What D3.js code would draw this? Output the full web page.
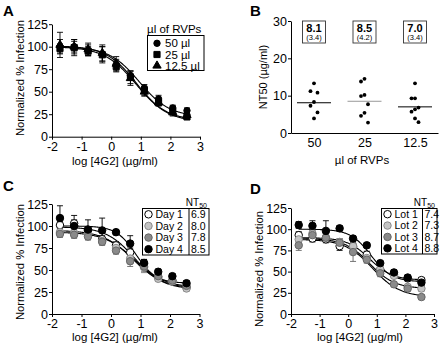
<!DOCTYPE html>
<html>
<head>
<meta charset="utf-8">
<script src="https://cdn.jsdelivr.net/npm/d3@7"></script>
<style>
  body { margin: 0; background: #fff; }
  text { font-family: "Liberation Sans", Arial, sans-serif; fill: #000; }
</style>
</head>
<body>
<svg id="fig" width="447" height="347"></svg>
<script>
// dose points (log [4G2] µg/ml), shared by A, C, D
const logDose = [-1.73, -1.25, -0.78, -0.3, 0.17, 0.65, 1.12, 1.6, 2.08, 2.56]
const xTicks = [-2, -1, 0, 1, 2, 3]
const yTicks = [0, 25, 50, 75, 100, 125]

// panel A : volume of RVPs
const rvpNames = ["50 µl", "25 µl", "12.5 µl"]
const rvp50 = [100, 100, 96, 92, 80, 68, 54, 42, 32, 29]
const rvp25 = [98, 99, 95, 91, 78, 66, 51, 38, 28, 22]
const rvp12 = [102, 100, 97, 93, 81, 65, 50, 38, 27, 24]
const rvp50Err = [8, 6, 6, 8, 6, 5, 4, 4, 3, 3]
const rvp25Err = [5, 9, 5, 9, 6, 7, 5, 4, 5, 3]
const rvp12Err = [14, 8, 7, 9, 8, 8, 5, 3, 3, 3]
// fitted curves: top, bottom, logEC50, hill
const rvpFits = [[100, 22, 0.95, 0.85], [100, 16, 0.85, 0.8], [101, 18, 0.85, 0.85]]

// panel B : NT50 per RVP volume
const groups = ["50", "25", "12.5"]
const nt50_50 = [13.3, 11.2, 10.8, 8.3, 7.3, 5.5, 3.9]
const nt50_25 = [14.5, 13.8, 10.2, 9.9, 7.7, 5.4, 4.6, 2.8]
const nt50_12 = [13.3, 9.3, 9.3, 6.8, 6.35, 5.7, 3.9, 2.9]
const groupMeans = [8.1, 8.5, 7.0]
const groupMeanLabels = ["8.1", "8.5", "7.0"]
const groupSdLabels = ["(3.4)", "(4.2)", "(3.4)"]

// panel C : day of production
const dayNames = ["Day 1", "Day 2", "Day 3", "Day 4"]
const dayNT50 = ["6.9", "8.0", "7.8", "8.5"]
const day1 = [101, 103, 95, 85, 78, 70, 57, 42, 38, 30]
const day2 = [93, 92, 90, 83, 75, 63, 53, 40, 37, 29]
const day3 = [91, 90, 88, 82, 72, 60, 54, 43, 38, 32]
const day4 = [109, 100, 96, 95, 93, 80, 58, 48, 43, 35]
const day1Err = [4, 4, 4, 4, 4, 5, 5, 3, 3, 3]
const day2Err = [4, 4, 4, 4, 4, 6, 6, 3, 3, 3]
const day3Err = [4, 4, 4, 4, 4, 6, 6, 3, 3, 3]
const day4Err = [14, 12, 11, 14, 3, 9, 4, 3, 3, 3]
const dayFits = [[99, 28, 0.8, 0.9], [95, 29, 0.75, 0.85], [93, 30, 0.8, 0.85], [100, 35, 0.85, 1.3]]

// panel D : lot
const lotNames = ["Lot 1", "Lot 2", "Lot 3", "Lot 4"]
const lotNT50 = ["7.4", "7.3", "8.7", "8.8"]
const lot1 = [93, 89, 88, 80, 80, 70, 52, 47, 42, 40]
const lot2 = [88, 95, 90, 85, 80, 66, 53, 45, 32, 30]
const lot3 = [81, 93, 90, 84, 73, 64, 48, 35, 30, 20]
const lot4 = [105, 104, 98, 101, 89, 81, 60, 49, 43, 37]
const lot1Err = [4, 4, 4, 5, 4, 4, 3, 3, 3, 3]
const lot2Err = [4, 4, 4, 4, 4, 4, 3, 3, 3, 3]
const lot3Err = [6, 4, 4, 5, 11, 4, 4, 3, 3, 3]
const lot4Err = [4, 6, 12, 3, 3, 3, 3, 3, 3, 3]
const lotFits = [[90, 40, 0.75, 1.1], [89, 30, 0.75, 1.0], [88, 20, 0.85, 0.9], [100, 38, 0.8, 1.2]]

const svg = d3.select("#fig")

// marker styles
const styles = {
  open: { fill: "#fff", stroke: "#000" },
  light: { fill: "#c4c4c4", stroke: "#8a8a8a" },
  mid: { fill: "#8a8a8a", stroke: "#666" },
  black: { fill: "#000", stroke: "#000" }
}

function logistic(p, x) {
  return p[1] + (p[0] - p[1]) / (1 + Math.pow(10, (x - p[2]) * p[3]))
}

function panelLetter(txt, x, y) {
  svg.append("text").attr("x", x).attr("y", y)
    .style("font-size", "15px").style("font-weight", "bold").text(txt)
}

function styleAxis(g) {
  g.selectAll("path,line").attr("stroke", "#000").attr("stroke-width", 1)
  g.selectAll("text").style("font-size", "12.5px").attr("fill", "#000")
}

function curvePanel(o) {
  const x = d3.scaleLinear().domain([-2, 3]).range(o.xr)
  const y = d3.scaleLinear().domain([0, 125]).range(o.yr)
  const g = svg.append("g")

  g.append("g").attr("transform", `translate(0,${o.yr[0]})`)
    .call(d3.axisBottom(x).tickValues(xTicks).tickFormat(d => String(d)).tickSize(3).tickSizeOuter(0).tickPadding(2))
    .call(styleAxis)
  g.append("g").attr("transform", `translate(${o.xr[0]},0)`)
    .call(d3.axisLeft(y).tickValues(yTicks).tickSize(3).tickSizeOuter(0).tickPadding(1))
    .call(styleAxis)

  g.append("text").attr("x", o.xLabel[0]).attr("y", o.xLabel[1]).attr("text-anchor", "middle")
    .style("font-size", "11.5px").text("log [4G2] (µg/ml)")
  g.append("text").attr("transform", `translate(${o.yLabel[0]},${o.yLabel[1]}) rotate(-90)`)
    .attr("text-anchor", "middle").style("font-size", "11.3px").text("Normalized % Infection")

  // fitted curve sampled across the dose range
  const xs = d3.range(-1.73, 2.561, 0.02)
  o.series.forEach(s => {
    g.append("path")
      .attr("d", d3.line().x(d => x(d)).y(d => y(logistic(s.fit, d)))(xs))
      .attr("fill", "none").attr("stroke", "#000").attr("stroke-width", 1.1)
  })
  o.series.forEach(s => {
    const st = styles[s.style]
    const eg = g.append("g").attr("stroke", s.style == "open" ? "#000" : st.stroke).attr("stroke-width", 0.9)
    s.vals.forEach((v, i) => {
      const cx = x(logDose[i]), lo = y(v - s.err[i]), hi = y(v + s.err[i])
      eg.append("line").attr("x1", cx).attr("x2", cx).attr("y1", lo).attr("y2", hi)
      eg.append("line").attr("x1", cx - 3).attr("x2", cx + 3).attr("y1", lo).attr("y2", lo)
      eg.append("line").attr("x1", cx - 3).attr("x2", cx + 3).attr("y1", hi).attr("y2", hi)
    })
  })
  o.series.forEach(s => {
    const st = styles[s.style]
    g.selectAll(null).data(s.vals).join("path")
      .attr("transform", (v, i) => `translate(${x(logDose[i])},${y(v)})`)
      .attr("d", d3.symbol().type(s.symbol || d3.symbolCircle).size(s.size || 40))
      .attr("fill", st.fill).attr("stroke", st.stroke).attr("stroke-width", 1)
  })
}

function symbolAt(g, cx, cy, s) {
  const st = styles[s.style]
  g.append("path").attr("transform", `translate(${cx},${cy})`)
    .attr("d", d3.symbol().type(s.symbol || d3.symbolCircle).size(s.size || 40))
    .attr("fill", st.fill).attr("stroke", st.stroke).attr("stroke-width", 1)
}

function nt50Legend(box, names, vals, series) {
  const g = svg.append("g")
  const [x0, y0, x1, y1, div] = box
  const t = g.append("text").attr("x", x1 - 2).attr("y", y0 - 3).attr("text-anchor", "end").style("font-size", "10px")
  t.append("tspan").text("NT")
  t.append("tspan").attr("dy", 2).style("font-size", "7px").text("50")
  g.append("rect").attr("x", x0).attr("y", y0).attr("width", x1 - x0).attr("height", y1 - y0)
    .attr("fill", "#fff").attr("stroke", "#000")
  g.append("line").attr("x1", div).attr("x2", div).attr("y1", y0).attr("y2", y1).attr("stroke", "#000")
  const rowH = (y1 - y0) / names.length
  names.forEach((n, i) => {
    const cy = y0 + rowH * (i + 0.5)
    symbolAt(g, x0 + 6, cy, series[i])
    g.append("text").attr("x", x0 + 13).attr("y", cy + 3.6).style("font-size", "10.5px").text(n)
    g.append("text").attr("x", div + 2).attr("y", cy + 3.6).style("font-size", "10.5px").text(vals[i])
  })
}

// ---------- A ----------
panelLetter("A", 3, 16)
const seriesA = [
  { vals: rvp50, err: rvp50Err, fit: rvpFits[0], style: "black", symbol: d3.symbolCircle, size: 32 },
  { vals: rvp12, err: rvp12Err, fit: rvpFits[2], style: "black", symbol: d3.symbolTriangle, size: 30 },
  { vals: rvp25, err: rvp25Err, fit: rvpFits[1], style: "black", symbol: d3.symbolSquare, size: 38 }
]
curvePanel({ xr: [52, 200], yr: [136.7, 24.2], xLabel: [115, 165], yLabel: [24, 78], series: seriesA })
{
  const g = svg.append("g")
  g.append("text").attr("x", 147).attr("y", 33).style("font-size", "11.5px").text("µl of RVPs")
  g.append("rect").attr("x", 147.5).attr("y", 35.5).attr("width", 56.5).attr("height", 35).attr("fill", "#fff").attr("stroke", "#000")
  const legA = [seriesA[0], seriesA[2], seriesA[1]]
  rvpNames.forEach((n, i) => {
    const cy = 43.3 + i * 11.2
    symbolAt(g, 157, cy, legA[i])
    g.append("text").attr("x", 165).attr("y", cy + 4).style("font-size", "11.5px").text(n)
  })
}

// ---------- B ----------
panelLetter("B", 250, 16)
{
  const x = d3.scalePoint().domain(groups).range([291, 438]).padding(0.455)
  const y = d3.scaleLinear().domain([0, 30]).range([133, 21])
  const g = svg.append("g")
  g.append("g").attr("transform", "translate(0,133)")
    .call(d3.axisBottom(x).tickSize(0).tickPadding(5))
    .call(styleAxis)
  g.append("g").attr("transform", "translate(291,0)")
    .call(d3.axisLeft(y).tickValues([0, 10, 20, 30]).tickSize(3).tickSizeOuter(0).tickPadding(1))
    .call(styleAxis)
  g.append("text").attr("x", 362).attr("y", 164).attr("text-anchor", "middle").style("font-size", "11.5px").text("µl of RVPs")
  g.append("text").attr("transform", "translate(267,77) rotate(-90)").attr("text-anchor", "middle")
    .style("font-size", "11px").text("NT50 (µg/ml)")

  const sets = [nt50_50, nt50_25, nt50_12]
  const lineColors = ["#000", "#999", "#000"]
  sets.forEach((vals, gi) => {
    const cx = x(groups[gi])
    // simple beeswarm: pick first free slot
    const placed = []
    vals.slice().sort((a, b) => b - a).forEach(v => {
      const py = y(v)
      const off = [0, -3.5, 3.5].find(o => !placed.some(p => p.o === o && Math.abs(p.y - py) < 12))
      placed.push({ o: off === undefined ? 0 : off, y: py })
    })
    g.selectAll(null).data(placed).join("circle")
      .attr("cx", d => cx + d.o).attr("cy", d => d.y).attr("r", 1.9).attr("fill", "#000")
    g.append("line").attr("x1", cx - 17).attr("x2", cx + 17)
      .attr("y1", y(groupMeans[gi])).attr("y2", y(groupMeans[gi]))
      .attr("stroke", lineColors[gi]).attr("stroke-width", 1)
    g.append("rect").attr("x", cx - 11.5).attr("y", 21).attr("width", 23).attr("height", 22)
      .attr("fill", "#fff").attr("stroke", "#333").attr("stroke-width", 0.9)
    g.append("text").attr("x", cx).attr("y", 31.5).attr("text-anchor", "middle")
      .style("font-size", "11px").style("font-weight", "bold").text(groupMeanLabels[gi])
    g.append("text").attr("x", cx).attr("y", 40).attr("text-anchor", "middle")
      .style("font-size", "7.5px").text(groupSdLabels[gi])
  })
}

// ---------- C ----------
panelLetter("C", 3, 191)
const seriesC = [
  { vals: day1, err: day1Err, fit: dayFits[0], style: "open", size: 44 },
  { vals: day2, err: day2Err, fit: dayFits[1], style: "light", size: 44 },
  { vals: day3, err: day3Err, fit: dayFits[2], style: "mid", size: 44 },
  { vals: day4, err: day4Err, fit: dayFits[3], style: "black", size: 44 }
]
curvePanel({ xr: [52, 199.5], yr: [314, 204], xLabel: [115, 341], yLabel: [24, 262], series: seriesC })
nt50Legend([142.5, 208.5, 209, 255, 189], dayNames, dayNT50, seriesC)

// ---------- D ----------
panelLetter("D", 250, 194)
const seriesD = [
  { vals: lot1, err: lot1Err, fit: lotFits[0], style: "open", size: 44 },
  { vals: lot2, err: lot2Err, fit: lotFits[1], style: "light", size: 44 },
  { vals: lot3, err: lot3Err, fit: lotFits[2], style: "mid", size: 44 },
  { vals: lot4, err: lot4Err, fit: lotFits[3], style: "black", size: 44 }
]
curvePanel({ xr: [291, 434], yr: [314, 208], xLabel: [360, 341], yLabel: [263, 269], series: seriesD })
nt50Legend([381.5, 208.5, 437, 254, 422.5], lotNames, lotNT50, seriesD)
</script>
</body>
</html>
